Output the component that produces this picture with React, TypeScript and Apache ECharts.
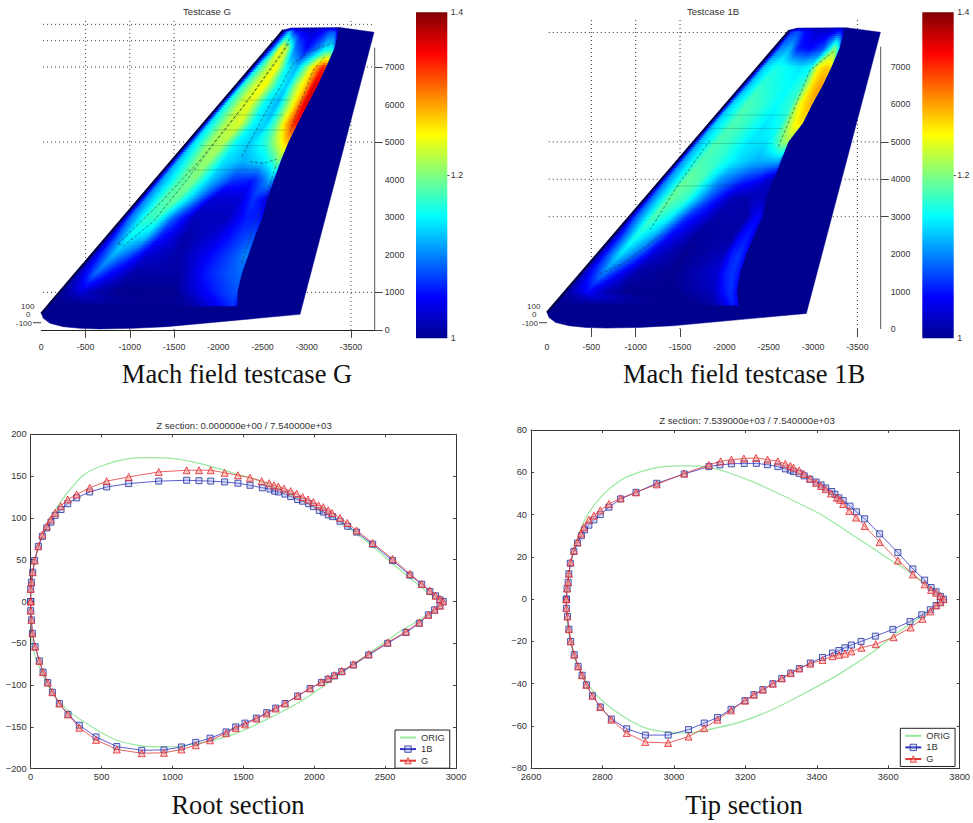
import React, { useEffect, useRef } from "react";
import * as echarts from "echarts";

// ---- colour map (Mach 1 .. 1.4) ----
const JET_MACH = [1, 1.05, 1.15, 1.25, 1.35, 1.4];
const JET_RGB = [[0, 0, 143], [0, 0, 255], [0, 255, 255], [255, 255, 0], [255, 0, 0], [128, 0, 0]];

// ---- wing planform ----
const wingX = [0, -2735, -2830, -3376, -3760, -2924, -1417, -1040, -663, -437, -249, -98, -23];
const wingZ = [441, 7986, 8040, 8048, 7925, 415, 86, 42, 24, 42, 86, 175, 308];

// ---- Mach field, read row by row (x stations, Mach at the stations) ----
const meshZ = [640, 1000, 1500, 2000, 2500, 3000, 3500, 4000, 4500, 5000, 5500, 6000, 6500, 7000, 7500, 7950, 8030];

const gMeshX = [
  [-68, -286, -663, -1115, -1492, -1718, -1869, -2020, -2170, -2216],
  [-196, -286, -437, -625, -852, -1492, -1869, -2057, -2170, -2216],
  [-377, -475, -607, -776, -1040, -1568, -1869, -2095, -2227, -2265],
  [-561, -663, -814, -1002, -1191, -1568, -1907, -2170, -2302, -2340],
  [-742, -852, -1002, -1191, -1341, -1643, -1944, -2246, -2378, -2415],
  [-923, -1000, -1191, -1323, -1492, -1718, -2095, -2321, -2453, -2498],
  [-1104, -1180, -1379, -1530, -1718, -1944, -2246, -2396, -2510, -2555],
  [-1285, -1360, -1568, -1718, -1907, -2170, -2396, -2510, -2585, -2630],
  [-1466, -1540, -1756, -1888, -2057, -2283, -2510, -2623, -2679, -2705],
  [-1647, -1720, -1907, -2057, -2208, -2359, -2547, -2679, -2754, -2792],
  [-1827, -1900, -2095, -2246, -2396, -2547, -2660, -2773, -2867, -2898],
  [-2008, -2080, -2246, -2359, -2510, -2660, -2773, -2886, -2969, -3007],
  [-2193, -2265, -2404, -2517, -2660, -2773, -2886, -2999, -3082, -3120],
  [-2378, -2445, -2555, -2660, -2773, -2886, -2999, -3094, -3180, -3218],
  [-2558, -2630, -2705, -2781, -2867, -2999, -3131, -3207, -3282, -3312],
  [-2728, -2766, -2811, -2867, -2962, -3075, -3188, -3263, -3320, -3357],
  [-2830, -2840, -2860, -2890, -2962, -3075, -3188, -3263, -3320, -3350],
];
const gMeshMach = [
  [1, 1, 1, 1, 1, 1.01, 1.03, 1.05, 1.07, 1.05],
  [1, 1.01, 1.03, 1.01, 1, 1, 1.05, 1.07, 1.08, 1.08],
  [1, 1.04, 1.09, 1.05, 1.01, 1.01, 1.06, 1.08, 1.09, 1.09],
  [1, 1.06, 1.12, 1.08, 1.03, 1.01, 1.05, 1.08, 1.1, 1.1],
  [1, 1.08, 1.15, 1.13, 1.06, 1.01, 1.03, 1.07, 1.08, 1.08],
  [1, 1.09, 1.17, 1.17, 1.09, 1.02, 1.02, 1.06, 1.06, 1.05],
  [1, 1.1, 1.18, 1.19, 1.12, 1.03, 1.03, 1.07, 1.05, 1.04],
  [1, 1.11, 1.18, 1.2, 1.13, 1.07, 1.06, 1.09, 1.12, 1.1],
  [1, 1.12, 1.2, 1.21, 1.14, 1.12, 1.14, 1.17, 1.2, 1.18],
  [1, 1.13, 1.21, 1.22, 1.15, 1.13, 1.17, 1.23, 1.27, 1.27],
  [1, 1.14, 1.22, 1.235, 1.15, 1.13, 1.19, 1.28, 1.34, 1.34],
  [1, 1.15, 1.23, 1.24, 1.15, 1.12, 1.2, 1.28, 1.36, 1.36],
  [1, 1.16, 1.23, 1.25, 1.16, 1.13, 1.22, 1.28, 1.37, 1.36],
  [1, 1.15, 1.22, 1.25, 1.15, 1.12, 1.2, 1.28, 1.34, 1.33],
  [1, 1.12, 1.25, 1.22, 1.1, 1.05, 1.1, 1.14, 1.15, 1.12],
  [1, 1.08, 1.12, 1.06, 1.04, 1.03, 1.05, 1.08, 1.08, 1.02],
  [1.01, 1.03, 1.04, 1.03, 1.02, 1.02, 1.03, 1.04, 1.03, 1.01],
];

const bMeshX = [
  [-71, -297, -673, -1124, -1500, -1726, -1876, -1970, -2083, -2158],
  [-196, -297, -447, -635, -861, -1425, -1876, -1970, -2064, -2139],
  [-380, -485, -635, -823, -1011, -1425, -1914, -2008, -2094, -2177],
  [-560, -673, -823, -1011, -1199, -1538, -1989, -2083, -2170, -2245],
  [-741, -861, -1011, -1199, -1387, -1688, -2102, -2185, -2260, -2335],
  [-921, -995, -1199, -1387, -1575, -1914, -2252, -2327, -2376, -2433],
  [-1102, -1175, -1387, -1575, -1801, -2064, -2252, -2346, -2421, -2478],
  [-1282, -1355, -1575, -1726, -1951, -2215, -2403, -2478, -2534, -2561],
  [-1463, -1535, -1726, -1914, -2139, -2365, -2478, -2553, -2609, -2640],
  [-1643, -1715, -1914, -2064, -2290, -2478, -2591, -2647, -2696, -2722],
  [-1824, -1895, -2102, -2252, -2478, -2647, -2741, -2797, -2854, -2884],
  [-2004, -2075, -2252, -2403, -2591, -2760, -2854, -2929, -2967, -2989],
  [-2188, -2260, -2403, -2553, -2741, -2873, -2985, -3042, -3079, -3106],
  [-2373, -2445, -2591, -2741, -2854, -2967, -3061, -3136, -3185, -3207],
  [-2553, -2628, -2741, -2835, -2967, -3117, -3192, -3237, -3275, -3298],
  [-2715, -2760, -2835, -2929, -3042, -3155, -3230, -3286, -3324, -3350],
  [-2830, -2840, -2860, -2890, -3042, -3155, -3230, -3286, -3320, -3350],
];
const bMeshMach = [
  [1, 1, 1, 1, 1, 1, 1.01, 1.03, 1.06, 1.05],
  [1, 1.02, 1.05, 1.02, 1, 1, 1.02, 1.05, 1.07, 1.05],
  [1, 1.05, 1.1, 1.05, 1.01, 1, 1.03, 1.06, 1.07, 1.05],
  [1, 1.07, 1.14, 1.09, 1.03, 1, 1.02, 1.06, 1.07, 1.05],
  [1, 1.08, 1.16, 1.12, 1.05, 1.005, 1.01, 1.05, 1.06, 1.04],
  [1, 1.08, 1.18, 1.15, 1.07, 1.01, 1.01, 1.04, 1.05, 1.03],
  [1, 1.09, 1.19, 1.17, 1.09, 1.02, 1.01, 1.02, 1.02, 1.01],
  [1, 1.1, 1.19, 1.18, 1.11, 1.07, 1.05, 1.03, 1.02, 1.01],
  [1, 1.11, 1.18, 1.17, 1.14, 1.12, 1.12, 1.12, 1.12, 1.1],
  [1, 1.12, 1.18, 1.17, 1.14, 1.14, 1.17, 1.2, 1.21, 1.2],
  [1, 1.13, 1.18, 1.17, 1.14, 1.16, 1.22, 1.25, 1.26, 1.25],
  [1, 1.13, 1.18, 1.17, 1.15, 1.17, 1.25, 1.27, 1.28, 1.27],
  [1, 1.12, 1.17, 1.16, 1.15, 1.17, 1.26, 1.28, 1.29, 1.28],
  [1, 1.13, 1.16, 1.15, 1.14, 1.15, 1.25, 1.27, 1.27, 1.26],
  [1, 1.1, 1.12, 1.06, 1.05, 1.08, 1.15, 1.2, 1.18, 1.12],
  [1, 1.07, 1.08, 1.05, 1.03, 1.03, 1.04, 1.06, 1.05, 1.02],
  [1.01, 1.03, 1.03, 1.03, 1.02, 1.02, 1.03, 1.04, 1.03, 1.01],
];

// ---- dashed contours on the wing ----
const gContours = [
  [[-870, 2305], [-1341, 3370], [-1794, 4524], [-2283, 5944], [-2736, 7453], [-2818, 7808]],
  [[-870, 2305], [-927, 2234], [-1266, 2882], [-1643, 3991], [-1982, 5056], [-2396, 6299], [-2698, 7276], [-2811, 7675]],
  [[-2265, 4613], [-2510, 5678], [-2849, 7098], [-2999, 7364], [-3169, 7542], [-3301, 7631]],
  [[-2811, 5280], [-2943, 6122], [-3075, 6921], [-3207, 7276]],
  [[-2359, 4480], [-2510, 4436], [-2660, 4542]],
  [[-2265, 1773], [-2396, 2749], [-2547, 3637], [-2660, 4436]],
];
const bContours = [
  [[-2609, 4868], [-2967, 6915], [-3249, 7449]],
  [[-598, 1469], [-861, 1753], [-1312, 2554]],
  [[-1162, 2643], [-1463, 3800], [-1839, 5046]],
];
// ---- faint surface mesh lines ----
const gMeshLines = [
  [-2246, 6122, -2811, 6122], [-2095, 5722, -2736, 5722], [-1944, 5323, -2773, 5323], [-1794, 4906, -2547, 4906], [-1643, 4258, -2472, 4258],
];
const bMeshLines = [
  [-1989, 5714, -2741, 5714], [-1839, 5358, -2666, 5358], [-1688, 4957, -2553, 4957], [-1463, 3818, -2215, 3818],
];

// ---- wing panel axes ----
const wingXLabels = [0, -500, -1000, -1500, -2000, -2500, -3000, -3500];
const wingZLabels = [0, 1000, 2000, 3000, 4000, 5000, 6000, 7000];
const gXTicks = [-500, -1000, -1500, -3500];
const bXTicks = [-500, -1000, -1500, -3500];
const gZTicks = [0, 1000, 5000, 7000];
const bZTicks = [3000, 4000, 5000];
const gGridZ = [8135, 7700, 7000, 5000, 1000];
const bGridZ = [7920, 5000, 4000, 3000];
const wingGridX = [-500, -1000, -1500, -3500];
const depthLabels = ["100", "0", "-100"];
const barLabels = [1, 1.2, 1.4];
const barTicks = [1.2];

// ---- root section ----
const rootOrigX = [0, 7, 31, 89, 172, 254, 371, 512, 691, 844, 1009, 1197, 1384, 1547, 1665, 1900, 2134, 2369, 2604, 2839, 2910, 2604, 2369, 2134, 1900, 1665, 1430, 1197, 959, 795, 607, 442, 254, 136, 19, 0];
const rootOrigY = [0, 26, 50, 82, 109, 129, 151, 163, 171, 172, 171, 165, 156, 148, 141, 122, 100, 72, 38, 6, 0, -36, -64, -93, -120, -141, -159, -169, -174, -173, -166, -151, -129, -105, -58, 0];
const root1BX = [0, 0, 5, 14, 28, 54, 82, 113, 143, 172, 214, 261, 324, 416, 536, 691, 903, 1100, 1187, 1270, 1368, 1462, 1547, 1634, 1688, 1721, 1747, 1794, 1834, 1883, 1918, 1961, 1994, 2036, 2064, 2099, 2130, 2182, 2236, 2299, 2412, 2553, 2675, 2758, 2816, 2856, 2887, 2910,
  2887, 2849, 2805, 2741, 2647, 2518, 2384, 2276, 2194, 2142, 2097, 2050, 1970, 1883, 1794, 1728, 1665, 1592, 1512, 1446, 1378, 1265, 1164, 1063, 940, 783, 607, 461, 343, 263, 202, 153, 120, 87, 61, 31, 12, 5, 0, 0];
const root1BY = [0, 15, 23, 35, 49, 66, 78, 88, 95, 103, 110, 117, 124, 131, 137, 141, 144, 145, 144.5, 144, 143, 141.5, 139, 136, 134.5, 132, 131, 128.5, 125.5, 122, 120, 117, 113.5, 109, 107, 103.5, 101.5, 96, 90, 83, 68.5, 49, 31.5, 20.7, 12, 6.8, 2, 0,
  -5, -10, -16, -26, -37, -50, -64, -76, -84, -89, -93, -97, -104, -113, -122, -127.5, -133, -139.5, -145.5, -150, -156, -163.5, -168.5, -174, -177.5, -178, -173.5, -162, -148, -135, -122, -108.5, -97, -84.5, -71, -54, -38, -22, -11, 0];
const rootGX = [0, 0, 5, 14, 28, 54, 82, 113, 141, 172, 212, 261, 324, 416, 536, 691, 903, 1100, 1187, 1270, 1368, 1462, 1547, 1629, 1683, 1716, 1747, 1787, 1834, 1876, 1918, 1956, 1994, 2031, 2064, 2099, 2125, 2182, 2233, 2299, 2412, 2553, 2675, 2758, 2816, 2856, 2887, 2910,
  2887, 2849, 2805, 2741, 2647, 2518, 2384, 2276, 2194, 2142, 2097, 2050, 1970, 1883, 1794, 1728, 1665, 1592, 1512, 1446, 1378, 1265, 1164, 1063, 940, 783, 607, 461, 343, 263, 202, 153, 120, 87, 61, 31, 12, 5, 0, 0];
const rootGY = [0, 15, 23, 35, 49, 66, 80, 90, 98, 106, 114, 122, 128, 136, 144, 149, 155, 157, 157, 157, 154, 151, 148, 144, 141.5, 139, 137.5, 135, 132, 129, 125, 122, 119, 115, 113, 109, 106, 100, 94, 85, 70, 51, 33, 21, 13, 7, 3, 0,
  -5, -10, -16, -25, -36, -49, -63, -75, -83, -88, -92, -96.5, -104, -113, -122, -128, -134, -140, -147, -151.5, -157.5, -166, -172, -177, -181, -181.5, -177, -165.5, -151, -135, -122, -108.5, -97, -84.5, -71, -54, -38, -22, -11, 0];

// ---- tip section ----
const tipOrigX = [2699, 2701, 2713, 2732, 2755, 2801, 2852, 2894, 2950, 3005, 3061, 3103, 3154, 3228, 3321, 3414, 3507, 3599, 3664, 3720, 3755, 3692, 3618, 3553, 3460, 3367, 3275, 3182, 3089, 3043, 2987, 2922, 2857, 2801, 2764, 2727, 2709, 2701, 2699];
const tipOrigY = [0, 6, 18.6, 29.6, 39, 49.3, 56.4, 59.5, 62.2, 63, 63, 62.2, 59.8, 55, 47.7, 39.8, 29.6, 19.4, 12.3, 5.2, 0, -8.2, -16.9, -25.5, -35.7, -44.4, -52.3, -58.3, -62, -63.3, -63, -61, -55.4, -48.3, -41.3, -30.2, -19.2, -9.8, 0];
const tip1BX = [2699, 2701, 2704, 2706, 2710, 2720, 2730, 2741, 2750, 2762, 2776, 2794, 2818, 2851, 2894, 2952, 3029, 3098, 3129, 3161, 3197, 3231, 3262, 3291, 3312, 3326, 3335, 3351, 3365, 3381, 3398, 3412, 3425, 3442, 3451, 3462, 3474, 3493, 3511, 3534, 3576, 3627, 3669, 3702, 3720, 3734, 3746, 3755,
  3746, 3734, 3718, 3694, 3661, 3613, 3564, 3524, 3497, 3479, 3462, 3444, 3416, 3382, 3351, 3327, 3302, 3277, 3249, 3224, 3199, 3160, 3122, 3085, 3041, 2984, 2920, 2868, 2825, 2794, 2772, 2755, 2743, 2732, 2721, 2711, 2706, 2702, 2699, 2699];
const tip1BY = [0, 5, 8, 12, 17, 22.5, 26.5, 30, 32.8, 35, 37.5, 40, 43.5, 47.4, 50.5, 54.8, 59.2, 62.7, 63.5, 64, 64.2, 64.2, 63.6, 62.7, 61.6, 61, 60.3, 59.5, 58.3, 56.7, 55.4, 54, 52.6, 50.9, 49.6, 47.9, 46.6, 44, 41.3, 38, 30.9, 22, 14.3, 9, 5.5, 3.5, 1.3, 0,
  -1.5, -3, -5, -7.4, -10.6, -14.3, -17.5, -20, -21.7, -23, -24.3, -25.5, -27.6, -30.2, -32.8, -35, -37.5, -40, -42.8, -45.2, -48, -52.1, -56, -58.6, -61.7, -64.3, -64.3, -61.3, -56.7, -51, -45.7, -40.5, -36, -31.8, -26.3, -20, -14.2, -8.2, -4.3, 0];
const tipGX = [2699, 2701, 2704, 2706, 2711, 2720, 2730, 2740, 2748, 2762, 2776, 2794, 2818, 2851, 2894, 2952, 3029, 3098, 3131, 3161, 3196, 3230, 3262, 3291, 3312, 3326, 3335, 3351, 3364, 3381, 3398, 3412, 3425, 3440, 3456, 3465, 3474, 3491, 3510, 3534, 3576, 3627, 3669, 3702, 3720, 3734, 3746, 3755,
  3746, 3734, 3718, 3696, 3663, 3615, 3565, 3525, 3497, 3479, 3462, 3444, 3416, 3382, 3351, 3327, 3302, 3277, 3249, 3224, 3199, 3160, 3122, 3085, 3041, 2984, 2920, 2868, 2825, 2794, 2772, 2755, 2743, 2732, 2721, 2711, 2706, 2702, 2699, 2699];
const tipGY = [0, 5, 8, 12, 17.5, 23, 27, 31, 34, 37.5, 39.5, 42, 45, 47.7, 50.5, 54.3, 59.4, 63.5, 65.2, 66, 66.5, 66.8, 66, 65.2, 64, 63, 62.2, 60.8, 59.2, 57, 55, 53.5, 52, 50, 48, 47, 45, 41.7, 38.6, 34.6, 27, 18.3, 11.7, 7, 4.4, 3, 1.5, 0,
  -1.5, -3, -5.8, -9.3, -13.4, -18, -21.3, -23, -24.7, -25.8, -26.3, -27, -28.8, -30.5, -32.8, -35, -37.5, -40, -42.8, -45.2, -48, -52.6, -57, -61, -65, -68, -67.6, -63.3, -57, -51, -45.7, -40.5, -36, -31.8, -26.3, -20, -14.2, -8.2, -4.3, 0];

const SANS = "'Liberation Sans', Arial, sans-serif";
const SERIF = "'Liberation Serif', 'Times New Roman', serif";
const INK = "#333";
const BLUE_MARK = { color: "rgba(130,150,230,0.3)", borderColor: "#22309c", borderWidth: 0.8 };
const RED_MARK = { color: "rgba(255,150,140,0.5)", borderColor: "#e0282e", borderWidth: 0.8 };

const zip = (a: number[], b: number[]) => a.map((v, i) => [v, b[i]]);

function jet(m: number) {
  const v = Math.max(JET_MACH[0], Math.min(JET_MACH[JET_MACH.length - 1], m));
  let i = 0;
  while (i < JET_MACH.length - 2 && v > JET_MACH[i + 1]) i++;
  const t = (v - JET_MACH[i]) / (JET_MACH[i + 1] - JET_MACH[i]);
  const c = JET_RGB[i].map((s, k) => Math.round(s + (JET_RGB[i + 1][k] - s) * t));
  return `rgb(${c[0]},${c[1]},${c[2]})`;
}

// Smooth shading of the read mesh, like MATLAB's "shading interp".
function meshSeries(grid: number, xs: number[][], ms: number[][]) {
  const SUB = 8;
  const SEG = 4;
  return {
    type: "custom",
    xAxisIndex: grid,
    yAxisIndex: grid,
    z: 4,
    silent: true,
    data: meshZ.slice(0, -1).map((_, i) => [i]),
    renderItem: (params: any, api: any) => {
      const r = params.dataIndex;
      const children: any[] = [];
      for (let k = 0; k < SUB; k++) {
        const t0 = k / SUB, t1 = (k + 1) / SUB, tm = (t0 + t1) / 2;
        const at = (t: number, arr: number[][], j: number) => arr[r][j] + (arr[r + 1][j] - arr[r][j]) * t;
        const z0 = meshZ[r] + (meshZ[r + 1] - meshZ[r]) * t0;
        const z1 = meshZ[r] + (meshZ[r + 1] - meshZ[r]) * t1;
        const n = xs[r].length;
        const p0 = api.coord([at(t0, xs, 0), z0]);
        const p1 = api.coord([at(t1, xs, 0), z1]);
        const p2 = api.coord([at(t1, xs, n - 1), z1]);
        const p3 = api.coord([at(t0, xs, n - 1), z0]);
        const y = (p0[1] + p1[1]) / 2;
        const left = api.coord([at(tm, xs, 0), z0])[0];
        const right = api.coord([at(tm, xs, n - 1), z0])[0];
        const stops: any[] = [];
        for (let j = 0; j < n - 1; j++) {
          const a = api.coord([at(tm, xs, j), z0])[0];
          const b = api.coord([at(tm, xs, j + 1), z0])[0];
          const ma = at(tm, ms, j), mb = at(tm, ms, j + 1);
          for (let s = 0; s < SEG; s++) {
            const f = s / SEG;
            stops.push({ offset: (a + (b - a) * f - left) / (right - left), color: jet(ma + (mb - ma) * f) });
          }
        }
        stops.push({ offset: 1, color: jet(at(tm, ms, n - 1)) });
        children.push({
          type: "polygon",
          shape: { points: [[p0[0], p0[1] + 0.4], [p1[0], p1[1] - 0.4], [p2[0], p2[1] - 0.4], [p3[0], p3[1] + 0.4]] },
          style: { fill: new echarts.graphic.LinearGradient(left, y, right, y, stops, true) },
        });
      }
      return { type: "group", children };
    },
  };
}

function wingSeries(grid: number) {
  return {
    type: "custom",
    xAxisIndex: grid,
    yAxisIndex: grid,
    z: 3,
    silent: true,
    data: [[0]],
    renderItem: (_: any, api: any) => ({
      type: "polygon",
      shape: { points: wingX.map((x, i) => api.coord([x, wingZ[i]])) },
      style: { fill: jet(1), stroke: jet(1), lineWidth: 0.5 },
    }),
  };
}

function segSeries(grid: number, segs: number[][], style: any, z: number) {
  return {
    type: "custom",
    xAxisIndex: grid,
    yAxisIndex: grid,
    z,
    silent: true,
    data: segs,
    renderItem: (_: any, api: any) => {
      const a = api.coord([api.value(0), api.value(1)]);
      const b = api.coord([api.value(2), api.value(3)]);
      return { type: "line", shape: { x1: a[0], y1: a[1], x2: b[0], y2: b[1] }, style };
    },
  };
}

function contourSeries(grid: number, pts: number[][]) {
  return {
    type: "line",
    xAxisIndex: grid,
    yAxisIndex: grid,
    z: 5,
    silent: true,
    showSymbol: false,
    symbol: "none",
    clip: false,
    data: pts,
    lineStyle: { color: "#1a2a2a", width: 0.7, type: [3, 2], opacity: 0.75 },
  };
}

function colorbarSeries(grid: number) {
  return {
    type: "custom",
    xAxisIndex: grid,
    yAxisIndex: grid,
    z: 3,
    silent: true,
    data: [[0]],
    renderItem: (_: any, api: any) => {
      const a = api.coord([0, 1.4]);
      const b = api.coord([1, 1]);
      const stops = JET_MACH.map((m) => ({ offset: (1.4 - m) / 0.4, color: jet(m) })).reverse();
      return {
        type: "rect",
        shape: { x: a[0], y: a[1], width: b[0] - a[0], height: b[1] - a[1] },
        style: { fill: new echarts.graphic.LinearGradient(0, 0, 0, 1, stops) },
      };
    },
  };
}

const plain = (v: number) => String(v);

function wingAxes(grid: number, xMin: number, zMax: number, xTicks: number[], zTicks: number[], showLine: boolean) {
  return {
    x: {
      gridIndex: grid,
      type: "value",
      inverse: true,
      min: xMin,
      max: 0,
      axisLine: { show: showLine, onZero: false, lineStyle: { color: "#222", width: 1 } },
      axisTick: { show: true, length: 8, customValues: xTicks, lineStyle: { color: "#444" } },
      axisLabel: { customValues: wingXLabels, margin: 13, fontSize: 8.8, fontFamily: SANS, color: INK, hideOverlap: false, formatter: plain },
      splitLine: { show: false },
    },
    y: {
      gridIndex: grid,
      type: "value",
      position: "right",
      min: 0,
      max: zMax,
      axisLine: { show: false, onZero: false },
      axisTick: { show: true, length: 8, customValues: zTicks, lineStyle: { color: "#444" } },
      axisLabel: { customValues: wingZLabels, margin: 10, fontSize: 8.8, fontFamily: SANS, color: INK, hideOverlap: false, formatter: plain },
      splitLine: { show: false },
    },
  };
}

function barAxes(grid: number) {
  return {
    x: { gridIndex: grid, type: "value", min: 0, max: 1, show: false },
    y: {
      gridIndex: grid,
      type: "value",
      position: "right",
      min: 1,
      max: 1.4,
      axisLine: { show: false, onZero: false },
      axisTick: { show: true, inside: false, length: 2, customValues: barTicks, lineStyle: { color: "#444" } },
      axisLabel: { margin: 3.5, customValues: barLabels, fontSize: 8.8, fontFamily: SANS, color: INK, formatter: plain },
      splitLine: { show: false },
    },
  };
}

const minus = (v: number) => String(v).replace("-", "\u2212");

function sectionAxes(grid: number, xr: number[], xi: number, yr: number[], yi: number) {
  const line = { show: true, onZero: false, lineStyle: { color: "#333", width: 1 } };
  const tick = { show: true, inside: true, length: 3, lineStyle: { color: "#444" } };
  const label = { fontSize: 9.3, fontFamily: SANS, color: INK, margin: 4 };
  return {
    xs: [
      { gridIndex: grid, type: "value", min: xr[0], max: xr[1], interval: xi, axisLine: line, axisTick: tick, axisLabel: { ...label, formatter: plain }, splitLine: { show: false } },
      { gridIndex: grid, type: "value", position: "top", min: xr[0], max: xr[1], interval: xi, axisLine: line, axisTick: tick, axisLabel: { show: false }, splitLine: { show: false } },
    ],
    ys: [
      { gridIndex: grid, type: "value", min: yr[0], max: yr[1], interval: yi, axisLine: line, axisTick: tick, axisLabel: { ...label, formatter: minus }, splitLine: { show: false } },
      { gridIndex: grid, type: "value", position: "right", min: yr[0], max: yr[1], interval: yi, axisLine: line, axisTick: tick, axisLabel: { show: false }, splitLine: { show: false } },
    ],
  };
}

function sectionSeries(grid: number, orig: number[][], b1: number[][], g: number[][]) {
  const base = { type: "line", xAxisIndex: grid, yAxisIndex: grid, clip: false, silent: true };
  return [
    { ...base, name: "ORIG", z: 3, showSymbol: false, symbol: "none", smooth: 0.25, data: orig, lineStyle: { color: "#98e8a0", width: 1.2 }, itemStyle: { color: "#98e8a0" } },
    {
      ...base, name: "1B", z: 4, symbol: "rect", symbolSize: 6, data: b1,
      lineStyle: { color: "#3333c4", width: 0.8 },
      itemStyle: BLUE_MARK,
    },
    {
      ...base, name: "G", z: 5, symbol: "triangle", symbolSize: 7, data: g,
      lineStyle: { color: "#e03a3a", width: 0.8 },
      itemStyle: RED_MARK,
    },
  ];
}

function legendAt(left: number, top: number) {
  return {
    show: true,
    orient: "vertical",
    left,
    top,
    data: [
      { name: "ORIG", itemStyle: { color: "transparent", borderColor: "transparent", borderWidth: 0 } },
      { name: "1B", itemStyle: BLUE_MARK },
      { name: "G", itemStyle: RED_MARK },
    ],
    selectedMode: false,
    itemWidth: 16,
    itemHeight: 8,
    itemGap: 2.6,
    padding: [3, 5, 3, 4],
    borderColor: "#222",
    borderWidth: 1,
    backgroundColor: "#fff",
    textStyle: { fontSize: 9.3, fontFamily: SANS, color: INK },
    z: 10,
  };
}

const caption = (text: string, cx: number, top: number) => ({
  text,
  left: cx,
  top,
  textAlign: "center",
  padding: 0,
  textStyle: { fontFamily: SERIF, fontWeight: "normal", fontSize: 26.5, color: "#111" },
});
const heading = (text: string, cx: number, top: number) => ({
  text,
  left: cx,
  top,
  textAlign: "center",
  padding: 0,
  textStyle: { fontFamily: SANS, fontWeight: "normal", fontSize: 9.6, color: INK },
});

function depthGraphic(x: number) {
  const texts = depthLabels.map((t, i) => ({
    type: "text",
    x: x + [-1, 4, -6][i],
    y: [302, 310.5, 319][i],
    style: { text: t, fontFamily: SANS, fontSize: 8, fill: INK },
  }));
  return [...texts, { type: "line", shape: { x1: x + 11, y1: 322.7, x2: x + 19, y2: 322.7 }, style: { stroke: "#444", lineWidth: 1 } }];
}

export default function App() {
  const ref = useRef<HTMLDivElement>(null);
  useEffect(() => {
    const chart = echarts.init(ref.current!, null, { renderer: "svg" });
    const dotted = { stroke: "#333", lineWidth: 1, lineDash: [1, 3] };
    const spine = { stroke: "#555", lineWidth: 1 };
    const faint = { stroke: "rgba(20,40,40,0.35)", lineWidth: 0.6 };
    const gridSegs = (rows: number[]) => [
      ...rows.map((z) => [-20, z, -3750, z]),
      ...wingGridX.map((x) => [x, 0, x, 8280]),
    ];

    const wg = wingAxes(0, -3768, 8296, gXTicks, gZTicks, true);
    const wb = wingAxes(1, -3763, 8300, bXTicks, bZTicks, false);
    const bg = barAxes(2);
    const bb = barAxes(3);
    const ro = sectionAxes(4, [0, 3000], 500, [-200, 200], 50);
    const ti = sectionAxes(5, [2600, 3800], 200, [-80, 80], 20);

    chart.setOption({
      animation: false,
      backgroundColor: "#fff",
      title: [
        heading("Testcase G", 207, 6),
        heading("Testcase 1B", 713, 6),
        heading("Z section: 0.000000e+00 / 7.540000e+03", 244, 420),
        heading("Z section: 7.539000e+03 / 7.540000e+03", 747, 415),
        caption("Mach field testcase G", 237, 360),
        caption("Mach field testcase 1B", 744, 360),
        caption("Root section", 238, 791),
        caption("Tip section", 744, 791),
      ],
      grid: [
        { left: 41.3, top: 18.3, width: 333.4, height: 311.6 },
        { left: 547, top: 18.3, width: 333.7, height: 310.7 },
        { left: 416, top: 12.3, width: 31.3, height: 326 },
        { left: 922.3, top: 12.3, width: 31.4, height: 326 },
        { left: 30.7, top: 434.3, width: 425.3, height: 334.4, show: true, backgroundColor: "#fff", borderWidth: 0 },
        { left: 531, top: 430, width: 431, height: 338.3, show: true, backgroundColor: "#fff", borderWidth: 0 },
      ],
      xAxis: [wg.x, wb.x, bg.x, bb.x, ro.xs[0], ti.xs[0], ro.xs[1], ti.xs[1]],
      yAxis: [wg.y, wb.y, bg.y, bb.y, ro.ys[0], ti.ys[0], ro.ys[1], ti.ys[1]],
      legend: [legendAt(395, 730), legendAt(900.3, 728.3)],
      graphic: { elements: [...depthGraphic(22), ...depthGraphic(528)] },
      series: [
        segSeries(0, gridSegs(gGridZ), dotted, 1),
        segSeries(1, gridSegs(bGridZ), dotted, 1),
        segSeries(0, [[-3768, 0, -3768, 7515]], spine, 2),
        segSeries(1, [[-3763, 0, -3763, 7540]], spine, 2),
        wingSeries(0),
        wingSeries(1),
        meshSeries(0, gMeshX, gMeshMach),
        meshSeries(1, bMeshX, bMeshMach),
        segSeries(0, gMeshLines, faint, 5),
        segSeries(1, bMeshLines, faint, 5),
        segSeries(0, [[wingX[0], wingZ[0], wingX[1], wingZ[1]]], { stroke: "#00003c", lineWidth: 2 }, 5),
        segSeries(1, [[wingX[0], wingZ[0], wingX[1], wingZ[1]]], { stroke: "#00003c", lineWidth: 2 }, 5),
        ...gContours.map((c) => contourSeries(0, c)),
        ...bContours.map((c) => contourSeries(1, c)),
        colorbarSeries(2),
        colorbarSeries(3),
        ...sectionSeries(4, zip(rootOrigX, rootOrigY), zip(root1BX, root1BY), zip(rootGX, rootGY)),
        ...sectionSeries(5, zip(tipOrigX, tipOrigY), zip(tip1BX, tip1BY), zip(tipGX, tipGY)),
      ],
    });
    return () => chart.dispose();
  }, []);
  return <div ref={ref} style={{ position: "absolute", left: 0, top: 0, width: 973, height: 823, background: "#fff" }} />;
}
